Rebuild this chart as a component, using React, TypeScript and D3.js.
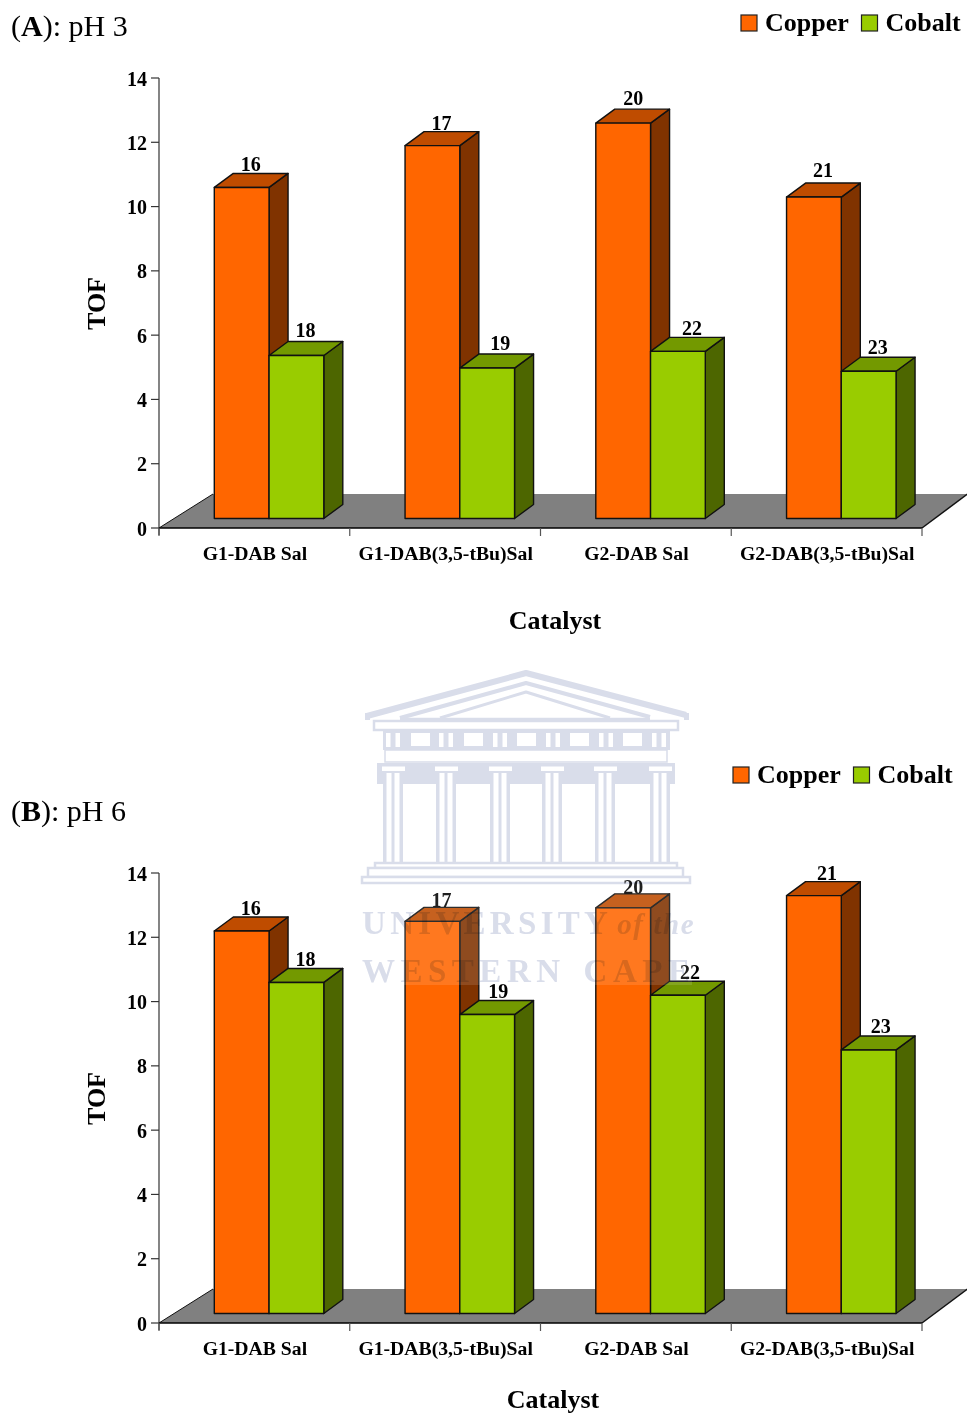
import React from "react";
import * as d3 from "d3";

// Catalysts along the category axis
const catalysts = ["G1-DAB Sal", "G1-DAB(3,5-tBu)Sal", "G2-DAB Sal", "G2-DAB(3,5-tBu)Sal"];
const metals = ["Copper", "Cobalt"];
const yTicks = [0, 2, 4, 6, 8, 10, 12, 14];

// Turnover frequencies at pH 3
const copperPh3 = [10.3, 11.6, 12.3, 10.0];
const cobaltPh3 = [5.07, 4.68, 5.2, 4.58];
// Compound numbers printed above the bars
const copperRefs = [16, 17, 20, 21];
const cobaltRefs = [18, 19, 22, 23];

// Turnover frequencies at pH 6
const copperPh6 = [11.9, 12.2, 12.62, 13.0];
const cobaltPh6 = [10.3, 9.3, 9.9, 8.2];

// Hand placement of the compound numbers: [dx, dy] per catalyst
const nudgeA = [
  [[0, 0], [0, 0], [1, -2], [0, -4]],
  [[0, -3], [4, -2], [5, 0], [0, -1]],
];
const nudgeB = [
  [[0, 0], [0, 2], [1, 2], [4, 0]],
  [[0, 0], [2, -1], [3, 0], [3, -1]],
];

const FONT = "'Liberation Serif', 'Times New Roman', serif";
const SHADES = [
  { front: "#FF6600", top: "#BF4C00", side: "#803300" },
  { front: "#99CC00", top: "#739900", side: "#4D6600" },
];
const DEPTH_X = 19;
const DEPTH_Y = 14;
const FLOOR_X = 54;
const FLOOR_Y = 34;

type PanelProps = {
  top: number;
  copper: number[];
  cobalt: number[];
  nudge: number[][][];
  titleLetter: string;
  titleRest: string;
  titleY: number;
  legendX: number;
  legendY: number;
  xTitleX: number;
  xTitleY: number;
};

function Panel({ top, copper, cobalt, nudge, titleLetter, titleRest, titleY, legendX, legendY, xTitleX, xTitleY }: PanelProps) {
  const left = 159;
  const right = 922;
  const bottom = top + 450;
  const y = d3.scaleLinear().domain([0, 14]).range([bottom, top]);
  const x0 = d3.scaleBand<string>().domain(catalysts).range([left, right]);
  const x1 = d3.scaleBand<string>().domain(metals).range([55.3, 164.8]);
  const series = [copper, cobalt];
  const refs = [copperRefs, cobaltRefs];
  // Bars stand on the floor, a little behind the front edge of the axis plane
  const barOffset = 9.5;
  const floor = [
    [left, bottom],
    [left + FLOOR_X, bottom - FLOOR_Y],
    [right + 45.5, bottom - FLOOR_Y],
    [right, bottom],
  ];
  return (
    <g fontFamily={FONT} fill="#000">
      <text x={11} y={titleY} fontSize={30}>
        (<tspan fontWeight="bold">{titleLetter}</tspan>): {titleRest}
      </text>

      <path d={`M${floor.join("L")}Z`} fill="#808080" />
      <line x1={left} x2={left + FLOOR_X} y1={bottom} y2={bottom - FLOOR_Y} stroke="#111" strokeWidth={1} />
      <line x1={right} x2={right + 45.5} y1={bottom} y2={bottom - FLOOR_Y} stroke="#111" strokeWidth={1.5} />

      <line x1={left} x2={left} y1={top} y2={bottom + 7} stroke="#666" strokeWidth={1.6} />
      {yTicks.map((t) => (
        <g key={t}>
          <line x1={left - 8} x2={left} y1={y(t)} y2={y(t)} stroke="#333" strokeWidth={1.2} />
          <text x={left - 12} y={y(t) + 7.5} textAnchor="end" fontSize={20} fontWeight="bold">
            {t}
          </text>
        </g>
      ))}
      <line x1={left} x2={right} y1={bottom} y2={bottom} stroke="#000" strokeWidth={1.6} />
      {[...catalysts.map((c) => x0(c) as number), right].map((px) => (
        <line key={px} x1={px} x2={px} y1={bottom} y2={bottom + 8} stroke="#555" strokeWidth={1.2} />
      ))}
      {catalysts.map((c) => (
        <text
          key={c}
          x={(x0(c) as number) + x0.bandwidth() / 2 + 0.5}
          y={bottom + 32}
          textAnchor="middle"
          fontSize={19.7}
          fontWeight="bold"
        >
          {c}
        </text>
      ))}

      {catalysts.map((c, i) => (
        <g key={c}>
          {metals.map((m, s) => {
            const xa = (x0(c) as number) + (x1(m) as number);
            const xb = xa + x1.bandwidth();
            const yt = y(series[s][i]) - barOffset;
            const yb = bottom - barOffset;
            const edge = { stroke: "#111", strokeWidth: 1.4, strokeLinejoin: "round" as const };
            return (
              <g key={m}>
                <path
                  d={`M${xb},${yt}L${xb + DEPTH_X},${yt - DEPTH_Y}L${xb + DEPTH_X},${yb - DEPTH_Y}L${xb},${yb}Z`}
                  fill={SHADES[s].side}
                  {...edge}
                />
                <path
                  d={`M${xa},${yt}L${xa + DEPTH_X},${yt - DEPTH_Y}L${xb + DEPTH_X},${yt - DEPTH_Y}L${xb},${yt}Z`}
                  fill={SHADES[s].top}
                  {...edge}
                />
                <rect x={xa} y={yt} width={xb - xa} height={yb - yt} fill={SHADES[s].front} {...edge} />
                <text
                  x={(xa + xb) / 2 + DEPTH_X / 2 - 0.5 + nudge[s][i][0]}
                  y={yt - DEPTH_Y - 2 + nudge[s][i][1]}
                  textAnchor="middle"
                  fontSize={20}
                  fontWeight="bold"
                >
                  {refs[s][i]}
                </text>
              </g>
            );
          })}
        </g>
      ))}

      <text
        transform={`translate(105,${top + 225.5}) rotate(-90)`}
        textAnchor="middle"
        fontSize={26}
        fontWeight="bold"
      >
        TOF
      </text>
      <text x={xTitleX} y={xTitleY} textAnchor="middle" fontSize={26} fontWeight="bold">
        Catalyst
      </text>

      {metals.map((m, s) => {
        const lx = legendX + s * 120.5;
        return (
          <g key={m}>
            <rect x={lx} y={legendY} width={16} height={16} fill={SHADES[s].front} stroke="#222" strokeWidth={1.2} />
            <text x={lx + 24} y={legendY + 16} fontSize={26} fontWeight="bold">
              {m}
            </text>
          </g>
        );
      })}
    </g>
  );
}

// Column centres and frieze openings of the university crest
const columnCentres = [393, 446, 500, 552, 605, 660];
const friezePairs = [386, 439, 493, 546, 599, 652];
const friezeWindows = [411, 464, 517, 570, 623];

function Crest() {
  const ink = "#D9DDEA";
  return (
    <g>
      <rect x={360} y={670} width={332} height={315} fill="#fff" opacity={0.12} />
      <g style={{ mixBlendMode: "multiply" }} filter="url(#crestSoft)">
        <g fill="none" stroke={ink} strokeLinejoin="round">
          <path d="M367,716L526,673L686,715" strokeWidth={6} />
          <path d="M400,718L526,683L650,717" strokeWidth={4} />
          <path d="M440,718L526,692L610,718" strokeWidth={3} />
          <path d="M400,719H650" strokeWidth={2.5} />
        </g>
        <rect x={365} y={713} width={5} height={7} fill={ink} />
        <rect x={684} y={713} width={5} height={7} fill={ink} />
        <rect x={374} y={721} width={304} height={9} fill="#fff" stroke={ink} strokeWidth={2.5} />
        <rect x={383} y={731} width={287} height={19} fill={ink} />
        {friezePairs.map((px) => (
          <g key={px}>
            <rect x={px} y={733} width={4.5} height={14} fill="#fff" />
            <rect x={px + 9.5} y={733} width={4.5} height={14} fill="#fff" />
          </g>
        ))}
        {friezeWindows.map((px) => (
          <rect key={px} x={px} y={733} width={19} height={13} fill="#fff" />
        ))}
        <rect x={385} y={750} width={282} height={12} fill="#fff" stroke={ink} strokeWidth={1.5} />
        <rect x={377} y={763} width={298} height={21} fill={ink} />
        {columnCentres.map((c) => (
          <g key={c}>
            <rect x={c - 11} y={766.5} width={23} height={4.5} fill="#fff" />
            <rect x={c - 10} y={771} width={20} height={92} fill={ink} />
            <rect x={c - 6.5} y={773} width={5} height={90} fill="#fff" />
            <rect x={c + 1.5} y={773} width={5} height={90} fill="#fff" />
          </g>
        ))}
        <g fill="#fff" stroke={ink} strokeWidth={2.5}>
          <rect x={375} y={863} width={302} height={5} />
          <rect x={368} y={868} width={315} height={9} />
          <rect x={362} y={877} width={328} height={6} />
        </g>
        <g fontFamily={FONT} fill={ink} fontSize={33} fontWeight="bold">
          <text x={362} y={934} letterSpacing={4.3}>
            UNIVERSITY
            <tspan fontStyle="italic" fontSize={29} letterSpacing={1.6} dx={5}>
              of the
            </tspan>
          </text>
          <text x={362} y={982} letterSpacing={5.5}>
            WESTERN
            <tspan dx={18}>CAPE</tspan>
          </text>
        </g>
      </g>
    </g>
  );
}

export default function App() {
  return (
    <svg
      width={967}
      height={1414}
      viewBox="0 0 967 1414"
      style={{ position: "absolute", left: 0, top: 0, background: "#fff" }}
    >
      <defs>
        <filter id="crestSoft" x="-5%" y="-5%" width="110%" height="110%">
          <feGaussianBlur stdDeviation={0.5} />
        </filter>
      </defs>
      <Panel
        top={78}
        copper={copperPh3}
        cobalt={cobaltPh3}
        nudge={nudgeA}
        titleLetter="A"
        titleRest="pH 3"
        titleY={36}
        legendX={741}
        legendY={15}
        xTitleX={555}
        xTitleY={629}
      />
      <Panel
        top={873}
        copper={copperPh6}
        cobalt={cobaltPh6}
        nudge={nudgeB}
        titleLetter="B"
        titleRest="pH 6"
        titleY={821}
        legendX={733}
        legendY={767}
        xTitleX={553}
        xTitleY={1408}
      />
      <Crest />
    </svg>
  );
}
